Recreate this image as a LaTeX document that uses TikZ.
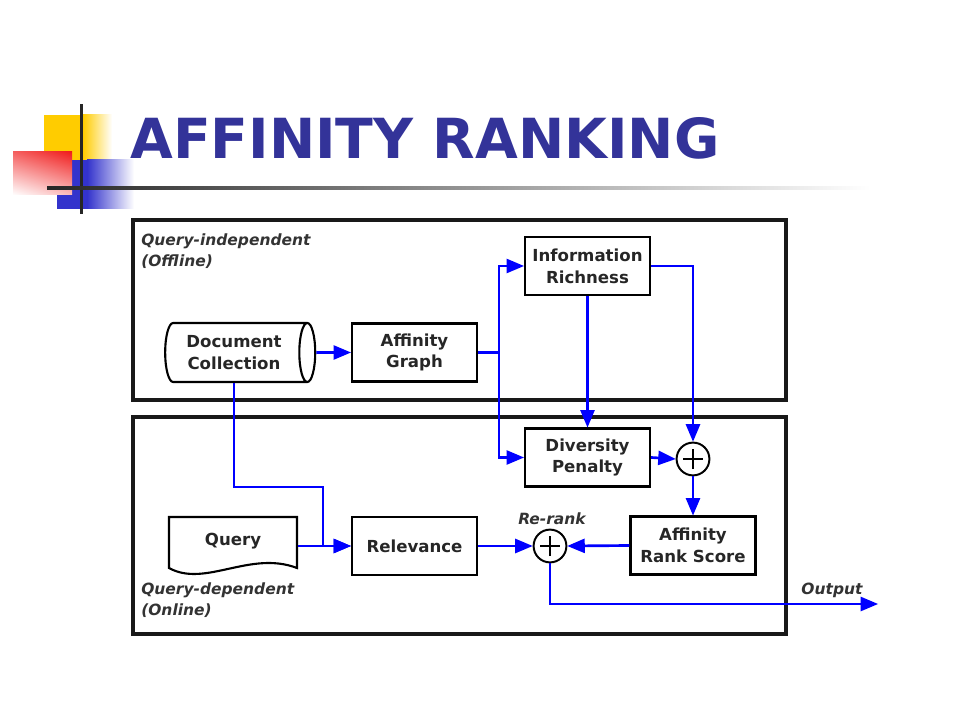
\documentclass[tikz,border=0pt]{standalone}
\usepackage{fontspec}
\setmainfont{DejaVu Sans}
\usepackage{xcolor}
\usetikzlibrary{shapes.geometric,positioning,arrows,shadings}
\definecolor{titleblue}{RGB}{51,51,153}
\definecolor{decoyellow}{RGB}{255,204,0}
\definecolor{decoblue}{RGB}{51,51,204}
\definecolor{decored}{RGB}{240,30,30}

\begin{document}
\begin{tikzpicture}[x=0.025cm,y=-0.025cm,>=triangle 45,
  box/.style={draw,line width=1.5pt,minimum width=3.125cm,minimum height=1.45cm,align=center,inner sep=2pt,
    font=\bfseries\fontsize{11.8}{15.5}\selectfont,text=black!85},
  flow/.style={->,draw=blue,line width=1.9pt},
  panel/.style={line width=2.2pt,draw=black!90},
  tag/.style={font=\bfseries\itshape\fontsize{11}{15.5}\selectfont,text=black!80,align=left,inner sep=0pt},
  sum/.style={circle,draw,line width=1.4pt,minimum size=0.82cm,inner sep=0pt,
    path picture={\draw[line width=1.4pt]
      ([xshift=-0.25cm]path picture bounding box.center) -- ([xshift=0.25cm]path picture bounding box.center)
      ([yshift=-0.25cm]path picture bounding box.center) -- ([yshift=0.25cm]path picture bounding box.center);}}]

    \useasboundingbox (0,0) rectangle (960,720);

    % Title decoration
    \fill[decoyellow] (44,115) rectangle (83,160);
    \shade[left color=decoyellow,right color=white] (83,115) rectangle (112,160);
    \fill[decoblue] (57,160) rectangle (87,209);
    \shade[left color=decoblue,right color=white] (87,160) rectangle (134,209);
    \shade[upper left=decored!70,upper right=decored,lower left=white,lower right=decored!30] (13,152) rectangle (72,195);
    \fill[black!85] (80,104) rectangle (82.5,214);
    \shade[left color=black!85,right color=white] (47,187) rectangle (870,189.5);
    \node[anchor=west,inner sep=0pt,text=titleblue,font=\bfseries\fontsize{39.3}{39}\selectfont] (title) at (130,138) {AFFINITY RANKING};

    % Panels
    \draw[panel] (133,220) rectangle (786,400);
    \draw[panel] (133,417) rectangle (786,634);
    \node[tag,anchor=north west] (offline) at (141,233) {Query-independent\\(Offline)};
    \node[tag,anchor=north west] (online) at (141,582) {Query-dependent\\(Online)};

    % The blocks
    \node[box,cylinder,shape aspect=0.4,minimum width=1.475cm,minimum height=3.75cm] (doc) at (234,352.5) {Document\\Collection};
    \node[box] (ag) at (414.5,352.5) {Affinity\\Graph};
    \node[box] (ir) at (587.5,266) {Information\\Richness};
    \node[box] (dp) at (587.5,457.5) {Diversity\\Penalty};
    \node[box] (rel) at (414.5,546) {Relevance};
    \node[box] (ars) at (693,545.5) {Affinity\\Rank Score};
    \node[sum] (sum1) at (693,459) {};
    \node[sum] (rerank) at (550,546) {};
    \node[box,draw=none,minimum width=3.2cm,minimum height=1.2cm] (query) at (233,541) {Query};
    \draw[line width=1.5pt] (169,517) -- (297,517) -- (297,568) .. controls (250,550) and (205,588) .. (169,568) -- cycle;

    % Labels
    \node[tag] (rr) at (552,519) {Re-rank};
    \node[tag] (outlabel) at (832,590) {Output};

    % Helper points
    \coordinate (split) at (499,352.5);
    \coordinate (bend) at (323,487);
    \coordinate (out) at (878,604);

    % Connectors
    \draw[flow] (doc.east) -- (ag.west);
    \draw[flow] (ag.east) -- (split) |- (ir.west);
    \draw[flow] (split) |- (dp.west);
    \draw[flow] (ir.east) -| (sum1.north);
    \draw[flow] (ir.south) -- (dp.north);
    \draw[flow] (dp.east) -- (sum1.west);
    \draw[flow] (sum1.south) -- (ars.north);
    \draw[flow] (ars.west) -- (rerank.east);
    \draw[flow] (query.east |- rel.west) -- (rel.west);
    \draw[flow] (doc.south) |- (bend) |- (rel.west);
    \draw[flow] (rel.east) -- (rerank.west);
    \draw[flow] (rerank.south) |- (out);

\end{tikzpicture}
\end{document}
